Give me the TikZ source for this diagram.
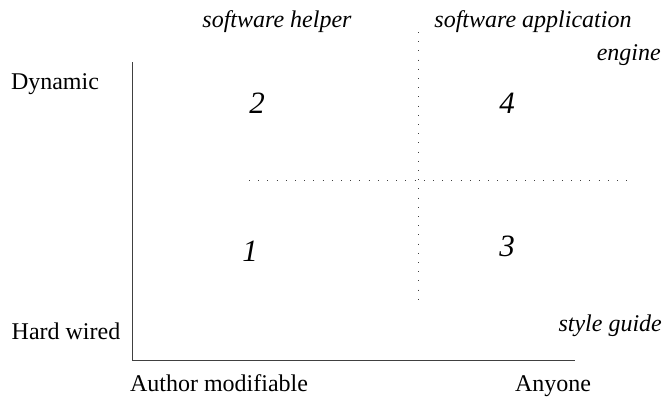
\documentclass[tikz,border=0pt]{standalone}
\usepackage{fontspec}
\setmainfont{Liberation Serif}
\begin{document}
\begin{tikzpicture}[x=1pt,y=-1pt,
  lbl/.style={font=\fontsize{24}{28}\selectfont, inner sep=0pt, anchor=base},
  cat/.style={font=\fontsize{24}{28}\selectfont\itshape, inner sep=0pt, anchor=base},
  quad/.style={font=\fontsize{31}{36}\selectfont\itshape, inner sep=0pt, anchor=base},
  axis/.style={line width=0.9pt, draw=black!75},
  split/.style={line width=1pt, draw=black!75, dash pattern=on 1pt off 8.2pt}]
\useasboundingbox (0,0) rectangle (666,397);
% axes
\coordinate (origin) at (132,360);
\coordinate (ytop) at (132,62);
\coordinate (xend) at (575,360);
\draw[axis] (ytop) -- (origin) -- (xend);
% quadrant dividers
\coordinate (hl) at (249,180);
\coordinate (hr) at (630,180);
\coordinate (vt) at (418,32);
\coordinate (vb) at (418,306);
\draw[split] (hl) -- (hr);
\draw[split] (vt) -- (vb);
% axis labels
\node[lbl] (dyn) at (55,89) {Dynamic};
\node[lbl] (hard) at (66,339) {Hard wired};
\node[lbl] (auth) at (219,391) {Author modifiable};
\node[lbl] (any) at (553,391) {Anyone};
% category labels
\node[cat] (helper) at (277,27) {software helper};
\node[cat] (app) at (533,27) {software application};
\node[cat, anchor=base east] (eng) at (661,60) {engine};
\node[cat, anchor=base east] (style) at (662,331) {style guide};
% quadrant numbers
\node[quad] (q2) at (257,113) {2};
\node[quad] (q4) at (507,113) {4};
\node[quad] (q1) at (250,261) {1};
\node[quad] (q3) at (507,256) {3};
\end{tikzpicture}
\end{document}
